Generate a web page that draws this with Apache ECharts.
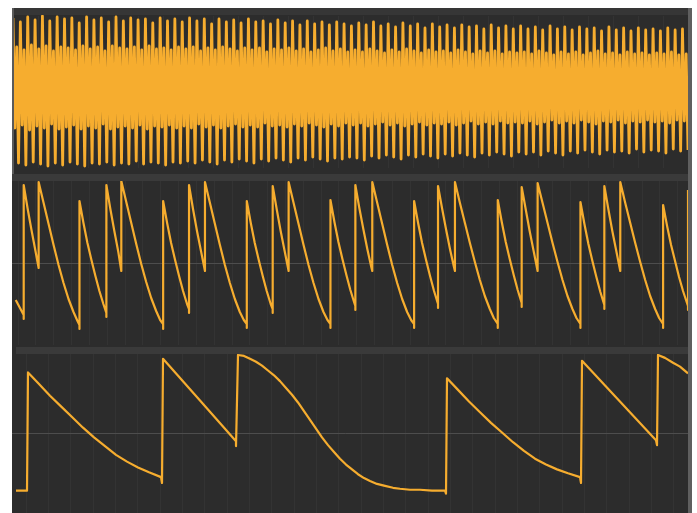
<!DOCTYPE html>
<html>
<head>
<meta charset="utf-8">
<script src="https://cdn.jsdelivr.net/npm/echarts@6/dist/echarts.min.js"></script>
<style>html,body{margin:0;padding:0;background:#fff;}#c{width:697px;height:513px;}</style>
</head>
<body>
<div id="c"></div>
<script>
// ---- Panel 1: dense waveform, one entry per cycle (value units, +-76 full scale) ----
const p1Peaks = [
  74,70,75,72,76,71,75,73,74,69,75,72,74,70,75,71,74,72,73,69,74,71,73,
  70,74,71,73,68,73,70,72,69,73,70,71,68,72,69,71,67,71,68,70,67,70,68,
  66,69,67,70,66,68,65,69,66,68,64,68,65,67,64,67,65,66,63,67,64,66,63,
  66,63,65,62,66,63,65,62,65,63,64,61,65,62,64,61,64,62,63,61,64,62,63];
const p1MidLow = [
  -36,-33,-38,-34,-36,-32,-37,-35,-33,-37,-34,-36,-32,-37,-35,-34,-36,-33,-37,-34,-35,-33,-36,
  -34,-36,-32,-35,-33,-36,-34,-32,-35,-33,-35,-31,-34,-33,-35,-32,-34,-31,-33,-35,-32,-34,-31,
  -33,-31,-34,-32,-30,-33,-31,-34,-32,-30,-33,-31,-32,-30,-33,-31,-29,-32,-30,-32,-29,-31,-30,
  -31,-29,-32,-30,-28,-31,-29,-31,-28,-30,-32,-29,-30,-28,-31,-29,-30,-28,-30,-29,-31,-28,-29];
const p1MidHigh = [
  45,42,47,43,46,41,45,44,42,46,43,45,41,46,44,43,45,42,46,43,44,42,45,
  43,45,41,44,42,45,43,41,44,42,44,40,43,42,44,41,43,40,42,44,41,43,40,
  42,40,43,41,39,42,40,43,41,39,42,40,41,39,42,40,38,41,39,41,38,40,39,
  40,38,41,39,37,40,38,40,37,39,41,38,39,37,40,38,39,37,39,38,40,37,38];
const p1Troughs = [
  -71,-73,-70,-72,-74,-71,-73,-70,-72,-74,-71,-72,-70,-73,-71,-72,-69,-72,-70,-71,-73,-70,-71,
  -69,-71,-68,-70,-72,-68,-70,-67,-69,-71,-67,-69,-66,-68,-70,-66,-68,-65,-67,-69,-66,-67,-65,
  -66,-68,-64,-66,-63,-65,-67,-63,-65,-62,-64,-66,-62,-64,-61,-63,-65,-61,-63,-60,-62,-64,-60,
  -62,-60,-63,-59,-61,-63,-59,-61,-58,-60,-62,-58,-60,-59,-61,-57,-60,-58,-59,-61,-57,-59,-58];

// ---- Panel 2: [time, value] ----
const p2Points = [
  [13,-37],[21,-52],[21,-56],
  [21,78],[25,54],[29,32],[33,11],[36,-5],
  [36,81],[41,60],[46,39],[51,18],[56,-2],[61,-20],[66,-36],[71,-49],[75,-58],[77,-62],[77,-66],
  [77,62],[81,40],[85,20],[89,3],[93,-13],[97,-28],[101,-41],[104,-50],[104,-54],
  [104,78],[108,54],[112,32],[116,11],[119,-8],
  [119,82],[124,61],[129,40],[134,19],[139,-1],[144,-19],[149,-35],[154,-48],[158,-57],[161,-61],[161,-66],
  [161,62],[165,40],[169,20],[173,3],[177,-13],[181,-28],[185,-41],[187,-46],[187,-50],
  [187,78],[191,54],[195,32],[199,12],[203,-8],
  [203,81],[208,60],[213,39],[218,18],[223,-2],[228,-20],[233,-36],[238,-49],[242,-57],[245,-61],[245,-65],
  [245,62],[249,40],[253,20],[257,3],[261,-13],[265,-28],[269,-41],[271,-46],[271,-50],
  [271,77],[275,54],[279,32],[283,12],[287,-8],
  [287,81],[292,60],[297,39],[302,18],[307,-2],[312,-20],[317,-36],[322,-49],[326,-57],[329,-61],[329,-65],
  [329,63],[333,41],[337,21],[341,4],[345,-12],[349,-27],[353,-40],[354,-43],[354,-47],
  [354,78],[358,55],[362,34],[366,14],[370,-4],[371,-8],
  [371,81],[376,60],[381,39],[386,18],[391,-2],[396,-20],[401,-36],[406,-49],[410,-57],[413,-61],[413,-65],
  [413,62],[417,40],[421,20],[425,3],[429,-13],[433,-28],[437,-41],[437,-45],
  [437,77],[441,55],[445,34],[449,14],[453,-4],[454,-8],
  [454,81],[459,60],[464,40],[469,20],[474,1],[479,-17],[484,-33],[489,-46],[493,-55],[497,-61],[497,-65],
  [497,63],[501,41],[505,21],[509,4],[513,-12],[517,-27],[521,-40],[521,-44],
  [521,76],[525,54],[529,32],[533,12],[537,-8],
  [537,80],[542,60],[547,40],[552,20],[557,1],[562,-17],[567,-33],[572,-46],[576,-55],[580,-61],[580,-65],
  [580,61],[584,39],[588,19],[592,2],[596,-14],[600,-29],[604,-42],[604,-46],
  [604,77],[608,54],[612,32],[616,12],[620,-8],
  [620,81],[625,60],[630,40],[635,20],[640,1],[645,-17],[650,-33],[655,-46],[659,-55],[663,-61],[663,-65],
  [663,58],[667,37],[671,18],[675,2],[679,-14],[683,-28],[687,-40],[688,-43],[688,-47],
  [688,73]
];

// ---- Panel 3: [time, value] ----
const p3Points = [
  [16,-59],[27,-59],[28,-60],
  [28,63],[39,51],[50,39],[61,28],[72,17],[83,6],[94,-4],[105,-13],[116,-22],[127,-29],[138,-35],[149,-40],[161,-45],[162,-51],
  [163,77],[200,34],[236,-8],[236,-13],
  [238,81],[244,80],[250,77],[256,74],[262,70],[268,65],[274,60],[280,54],[286,47],[292,40],[298,32],[304,23],[310,14],
  [316,5],[322,-4],[328,-12],[334,-19],[340,-26],[346,-32],[352,-37],[358,-42],[364,-46],[370,-49],[377,-52],[385,-54],
  [393,-56],[400,-57],[410,-58],[420,-58],[432,-59],[445,-59],[446,-62],
  [447,57],[458,45],[469,33],[480,22],[491,11],[502,1],[513,-9],[524,-18],[535,-26],[546,-32],[557,-37],[568,-41],[580,-45],[581,-51],
  [582,75],[619,34],[656,-7],[657,-12],
  [658,81],[665,78],[673,73],[680,69],[688,62]
];

// interleave panel-1 cycle values into a sample sequence
const p1Data = [];
for (let i = 0; i < p1Peaks.length; i++) {
  const base = i * 4;
  p1Data.push([base, p1Peaks[i]], [base + 1, p1MidLow[i]], [base + 2, p1MidHigh[i]], [base + 3, p1Troughs[i]]);
}

const WAVE = '#f6ad2f';
const GRIDLINE = '#333333';
const MIDLINE = '#4d4d4d';

function xAx(grid, min, max, interval, showZero) {
  return {
    type: 'value', gridIndex: grid, min: min, max: max, interval: interval,
    axisLabel: {show: false}, axisTick: {show: false},
    axisLine: {show: showZero, onZero: true, lineStyle: {color: MIDLINE, width: 1}},
    splitLine: {show: true, lineStyle: {color: GRIDLINE, width: 1}}
  };
}
function yAx(grid, lim) {
  return {
    type: 'value', gridIndex: grid, min: -lim, max: lim,
    axisLabel: {show: false}, axisTick: {show: false},
    axisLine: {show: false}, splitLine: {show: false}
  };
}

const chart = echarts.init(document.getElementById('c'), null, {renderer: 'canvas'});
chart.setOption({
  animation: false,
  backgroundColor: '#2c2c2c',
  grid: [
    {left: 13, right: 9, top: 16, height: 152},
    {left: -2.8, right: 9, top: 181, height: 164},
    {left: 3.67, right: 9, top: 354, height: 164}
  ],
  xAxis: [
    xAx(0, 0, p1Peaks.length * 4 - 1, 13.6, false),
    xAx(1, -2.8, 688, 17.9, true),
    xAx(2, 3.67, 688, 22.33, true)
  ],
  yAxis: [yAx(0, 76), yAx(1, 82), yAx(2, 82)],
  series: [
    {type: 'line', xAxisIndex: 0, yAxisIndex: 0, data: p1Data, showSymbol: false, silent: true,
     lineStyle: {color: WAVE, width: 2.8, join: 'round'}},
    {type: 'line', xAxisIndex: 1, yAxisIndex: 1, data: p2Points, showSymbol: false, silent: true,
     lineStyle: {color: WAVE, width: 2.2, join: 'round'}},
    {type: 'line', xAxisIndex: 2, yAxisIndex: 2, data: p3Points, showSymbol: false, silent: true,
     lineStyle: {color: WAVE, width: 2.2, join: 'round'}}
  ],
  graphic: [
    {type: 'rect', z: 100, silent: true, shape: {x: 12, y: 8, width: 676, height: 7}, style: {fill: '#363636'}},
    {type: 'rect', z: 100, silent: true, shape: {x: 12, y: 174, width: 676, height: 7}, style: {fill: '#3a3a3a'}},
    {type: 'rect', z: 100, silent: true, shape: {x: 16, y: 347, width: 672, height: 7}, style: {fill: '#3a3a3a'}},
    {type: 'rect', z: 100, silent: true, shape: {x: 12, y: 8, width: 2, height: 166}, style: {fill: '#5a5a5a'}},
    {type: 'rect', z: 100, silent: true, shape: {x: 688, y: 8, width: 4, height: 505}, style: {fill: '#5f5f5f'}},
    {type: 'rect', z: 101, silent: true, shape: {x: 0, y: 0, width: 697, height: 8}, style: {fill: '#ffffff'}},
    {type: 'rect', z: 101, silent: true, shape: {x: 0, y: 0, width: 12, height: 513}, style: {fill: '#ffffff'}},
    {type: 'rect', z: 101, silent: true, shape: {x: 692, y: 0, width: 5, height: 513}, style: {fill: '#ffffff'}}
  ]
});
</script>
</body>
</html>
